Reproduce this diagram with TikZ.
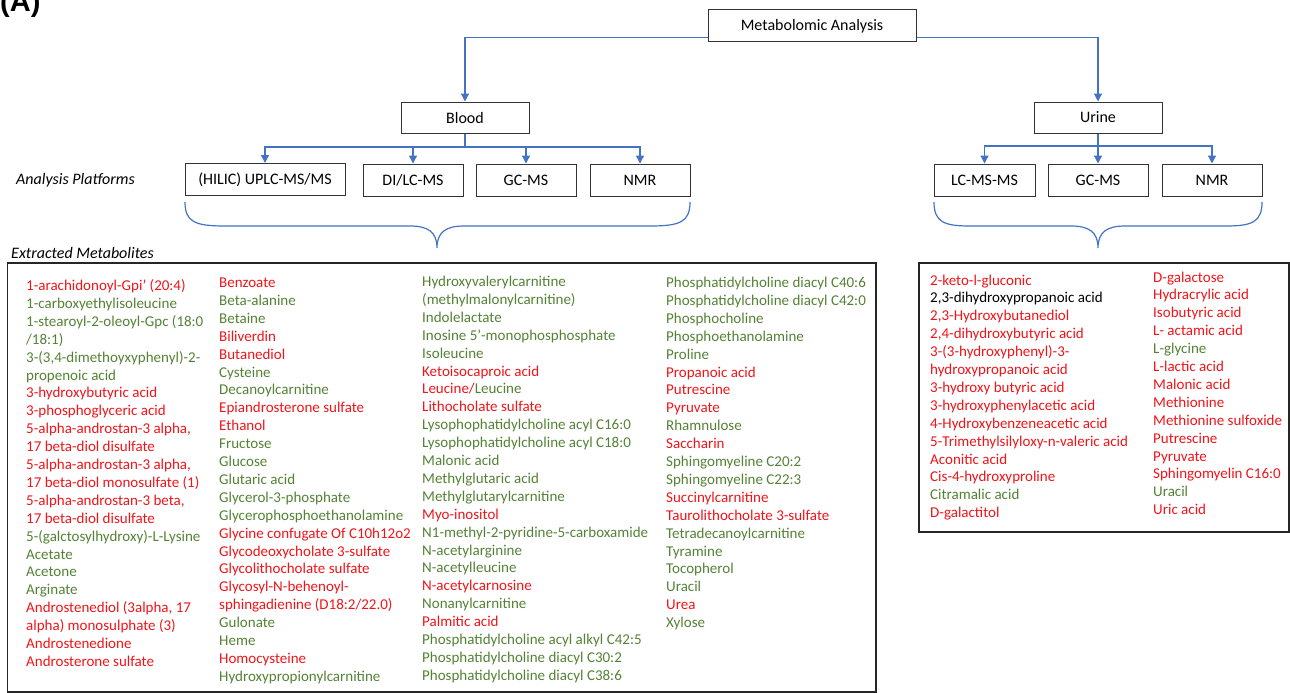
\documentclass[tikz,border=0pt]{standalone}
\usepackage{fontspec}
\setmainfont{Carlito}
\newfontfamily\arialfont{Liberation Sans}
\usetikzlibrary{arrows.meta,calc}
\definecolor{lblue}{RGB}{68,114,196}
\definecolor{mred}{RGB}{240,20,25}
\definecolor{mgreen}{RGB}{84,130,53}
\newcommand\mR{\color{mred}}
\newcommand\mG{\color{mgreen}}
\newcommand\mK{\color{black}}
\begin{document}
\begin{tikzpicture}[x=1pt,y=-1pt,
  pbox/.style={draw=black!80, line width=1pt, rectangle, inner sep=0pt, minimum height=32pt, font=\fontsize{16}{19}\selectfont},
  conn/.style={draw=lblue, line width=1.3pt, -{Triangle[length=8pt,width=8pt]}},
  bline/.style={draw=lblue, line width=1.3pt},
  bracestyle/.style={draw=lblue, line width=1.2pt},
  listbox/.style={draw=black!85, line width=1.6pt},
  listcol/.style={anchor=base west, inner sep=0pt, font=\fontsize{15}{17.9}\selectfont},
  lbl/.style={inner sep=0pt, font=\fontsize{16}{19}\selectfont\itshape}]
\useasboundingbox (0,0) rectangle (1290,693);

\node[anchor=base west, inner sep=0pt, font=\arialfont\bfseries\fontsize{29}{32}\selectfont] (lab) at (0,12) {(A)};

% boxes
\node[pbox, minimum width=208pt] (top) at (812,26) {Metabolomic Analysis};
\node[pbox, minimum width=128pt, minimum height=31pt] (blood) at (465,117.5) {Blood};
\node[pbox, minimum width=128pt, minimum height=31pt] (urine) at (1098,117.5) {Urine};
\node[pbox, minimum width=160pt] (p1) at (265,179.5) {(HILIC) UPLC-MS/MS};
\node[pbox, minimum width=100pt] (p2) at (413,180) {DI/LC-MS};
\node[pbox, minimum width=100pt] (p3) at (526,180) {GC-MS};
\node[pbox, minimum width=100pt] (p4) at (640,180) {NMR};
\node[pbox, minimum width=101pt] (u1) at (984.5,180) {LC-MS-MS};
\node[pbox, minimum width=100pt] (u2) at (1098,180) {GC-MS};
\node[pbox, minimum width=100pt] (u3) at (1212,180) {NMR};

% connectors
\draw[conn] ($(top.south west)+(0,-5)$) -| (blood.north);
\draw[conn] ($(top.south east)+(0,-5)$) -| (urine.north);
\coordinate (bj) at (465,147);
\draw[bline] (blood.south) -- (bj);
\foreach \n in {p1,p2,p3,p4} \draw[conn] (bj) -| (\n.north);
\coordinate (uj) at (1098,146);
\draw[bline] (urine.south) -- (uj);
\foreach \n in {u1,u2,u3} \draw[conn] (uj) -| (\n.north);

% braces
\draw[bracestyle] (185,202) .. controls (185,222) and (195,226) .. (225,226) -- (410,226)
  .. controls (428,226) and (437,232) .. (437,248)
  .. controls (437,232) and (446,226) .. (464,226) -- (650,226)
  .. controls (680,226) and (690,222) .. (690,202);
\draw[bracestyle] (934,202) .. controls (934,222) and (944,226) .. (970,226) -- (1071,226)
  .. controls (1089,226) and (1098,232) .. (1098,248)
  .. controls (1098,232) and (1107,226) .. (1125,226) -- (1226,226)
  .. controls (1252,226) and (1262,222) .. (1262,202);

% labels
\node[lbl, anchor=west] (ap) at (16,180) {Analysis Platforms};
\node[lbl, anchor=base west] (em) at (11,258) {Extracted Metabolites};

% list boxes
\draw[listbox] (7.5,263) rectangle (876,692);
\draw[listbox] (919,263) rectangle (1289,532);

\node[listcol] (c1) at (26,290.5) {\begin{tabular}[t]{@{}l@{}}
\mR 1-arachidonoyl-Gpi’ (20:4)\\
\mG 1-carboxyethylisoleucine\\
\mG 1-stearoyl-2-oleoyl-Gpc (18:0\\
\mG /18:1)\\
\mG 3-(3,4-dimethoyxyphenyl)-2-\\
\mG propenoic acid\\
\mR 3-hydroxybutyric acid\\
\mR 3-phosphoglyceric acid\\
\mR 5-alpha-androstan-3 alpha,\\
\mR 17 beta-diol disulfate\\
\mR 5-alpha-androstan-3 alpha,\\
\mR 17 beta-diol monosulfate (1)\\
\mR 5-alpha-androstan-3 beta,\\
\mR 17 beta-diol disulfate\\
\mG 5-(galctosylhydroxy)-L-Lysine\\
\mG Acetate\\
\mG Acetone\\
\mG Arginate\\
\mR Androstenediol (3alpha, 17\\
\mR alpha) monosulphate (3)\\
\mR Androstenedione\\
\mR Androsterone sulfate
\end{tabular}};

\node[listcol] (c2) at (219,287.5) {\begin{tabular}[t]{@{}l@{}}
\mR Benzoate\\
\mG Beta-alanine\\
\mG Betaine\\
\mR Biliverdin\\
\mR Butanediol\\
\mG Cysteine\\
\mG Decanoylcarnitine\\
\mR Epiandrosterone sulfate\\
\mR Ethanol\\
\mG Fructose\\
\mG Glucose\\
\mG Glutaric acid\\
\mG Glycerol-3-phosphate\\
\mG Glycerophosphoethanolamine\\
\mR Glycine confugate Of C10h12o2\\
\mR Glycodeoxycholate 3-sulfate\\
\mR Glycolithocholate sulfate\\
\mR Glycosyl-N-behenoyl-\\
\mR sphingadienine (D18:2/22.0)\\
\mG Gulonate\\
\mG Heme\\
\mR Homocysteine\\
\mG Hydroxypropionylcarnitine
\end{tabular}};

\node[listcol] (c3) at (422,286.5) {\begin{tabular}[t]{@{}l@{}}
\mG Hydroxyvalerylcarnitine\\
\mG (methylmalonylcarnitine)\\
\mG Indolelactate\\
\mG Inosine 5’-monophosphosphate\\
\mG Isoleucine\\
\mR Ketoisocaproic acid\\
{\mR Leucine/}\mG Leucine\\
\mR Lithocholate sulfate\\
\mG Lysophophatidylcholine acyl C16:0\\
\mG Lysophophatidylcholine acyl C18:0\\
\mG Malonic acid\\
\mG Methylglutaric acid\\
\mG Methylglutarylcarnitine\\
\mR Myo-inositol\\
\mG N1-methyl-2-pyridine-5-carboxamide\\
\mG N-acetylarginine\\
\mG N-acetylleucine\\
\mR N-acetylcarnosine\\
\mG Nonanylcarnitine\\
\mR Palmitic acid\\
\mG Phosphatidylcholine acyl alkyl C42:5\\
\mG Phosphatidylcholine diacyl C30:2\\
\mG Phosphatidylcholine diacyl C38:6
\end{tabular}};

\node[listcol] (c4) at (666,287.5) {\begin{tabular}[t]{@{}l@{}}
\mG Phosphatidylcholine diacyl C40:6\\
\mG Phosphatidylcholine diacyl C42:0\\
\mG Phosphocholine\\
\mG Phosphoethanolamine\\
\mG Proline\\
\mR Propanoic acid\\
\mR Putrescine\\
\mR Pyruvate\\
\mG Rhamnulose\\
\mR Saccharin\\
\mG Sphingomyeline C20:2\\
\mG Sphingomyeline C22:3\\
\mR Succinylcarnitine\\
\mR Taurolithocholate 3-sulfate\\
\mG Tetradecanoylcarnitine\\
\mG Tyramine\\
\mG Tocopherol\\
\mG Uracil\\
\mR Urea\\
\mG Xylose
\end{tabular}};

\node[listcol] (u1list) at (930,285) {\begin{tabular}[t]{@{}l@{}}
\mR 2-keto-l-gluconic\\
\mK 2,3-dihydroxypropanoic acid\\
\mR 2,3-Hydroxybutanediol\\
\mR 2,4-dihydroxybutyric acid\\
\mR 3-(3-hydroxyphenyl)-3-\\
\mR hydroxypropanoic acid\\
\mR 3-hydroxy butyric acid\\
\mR 3-hydroxyphenylacetic acid\\
\mR 4-Hydroxybenzeneacetic acid\\
\mR 5-Trimethylsilyloxy-n-valeric acid\\
\mR Aconitic acid\\
\mR Cis-4-hydroxyproline\\
\mG Citramalic acid\\
\mR D-galactitol
\end{tabular}};

\node[listcol] (u2list) at (1153,282) {\begin{tabular}[t]{@{}l@{}}
\mR D-galactose\\
\mR Hydracrylic acid\\
\mR Isobutyric acid\\
\mR L- actamic acid\\
\mG L-glycine\\
\mR L-lactic acid\\
\mR Malonic acid\\
\mR Methionine\\
\mR Methionine sulfoxide\\
\mR Putrescine\\
\mR Pyruvate\\
\mR Sphingomyelin C16:0\\
\mG Uracil\\
\mR Uric acid
\end{tabular}};
\end{tikzpicture}
\end{document}
